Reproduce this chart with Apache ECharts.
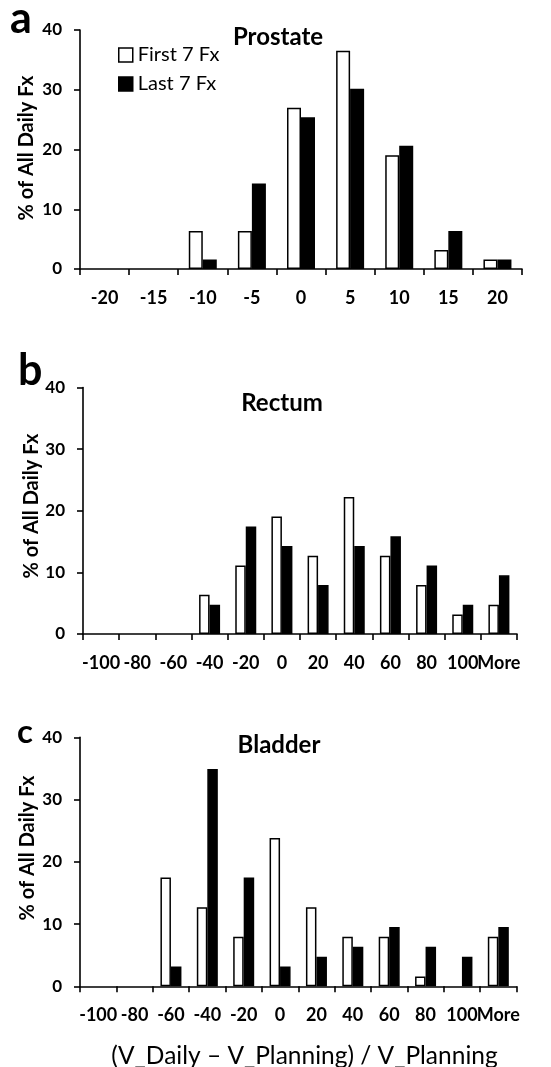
<!DOCTYPE html>
<html>
<head>
<meta charset="utf-8">
<script src="https://cdn.jsdelivr.net/npm/echarts@6/dist/echarts.min.js"></script>
<style>
html,body{margin:0;padding:0;background:#fff;}
#chart{width:551px;height:1067px;}
</style>
</head>
<body>
<div id="chart"></div>
<script>
// ---- data ----
var prostateCats = ['-20','-15','-10','-5','0','5','10','15','20'];
var prostateFirst = [0, 0, 6.35, 6.35, 26.98, 36.51, 19.05, 3.17, 1.59];
var prostateLast  = [0, 0, 1.59, 14.29, 25.40, 30.16, 20.63, 6.35, 1.59];

var organCats = ['-100','-80','-60','-40','-20','0','20','40','60','80','100','More'];
var rectumFirst = [0, 0, 0, 6.35, 11.11, 19.05, 12.70, 22.22, 12.70, 7.94, 3.17, 4.76];
var rectumLast  = [0, 0, 0, 4.76, 17.46, 14.29, 7.94, 14.29, 15.87, 11.11, 4.76, 9.52];
var bladderFirst = [0, 0, 17.46, 12.70, 7.94, 23.81, 12.70, 7.94, 7.94, 1.59, 0, 7.94];
var bladderLast  = [0, 0, 3.17, 34.92, 17.46, 3.17, 4.76, 6.35, 9.52, 6.35, 4.76, 9.52];

var yTicks = {min: 0, max: 40, interval: 10};
var seriesNames = ['First 7 Fx', 'Last 7 Fx'];

// ---- chart ----
var FONT = 'Lato';
var chart = echarts.init(document.getElementById('chart'), null, {renderer: 'canvas'});

var grids = [
  {left: 80, right: 29, top: 30, height: 239},
  {left: 83, right: 34, top: 387.5, height: 246.5},
  {left: 80, right: 34.5, top: 737.3, height: 249}
];

function xAxisFor(i, cats) {
  return {
    type: 'category', gridIndex: i, data: cats,
    axisLine: {lineStyle: {color: '#000', width: 1.6}},
    axisTick: {show: true, length: 6, lineStyle: {color: '#000', width: 1.6}},
    axisLabel: {interval: 0, color: '#000', fontFamily: FONT, fontWeight: 'bold', fontSize: 18, margin: 20}
  };
}
function yAxisFor(i) {
  return {
    type: 'value', gridIndex: i, min: yTicks.min, max: yTicks.max, interval: yTicks.interval,
    splitLine: {show: false},
    axisLine: {show: true, lineStyle: {color: '#000', width: 1.6}},
    axisTick: {show: true, length: 6, lineStyle: {color: '#000', width: 1.6}},
    axisLabel: {color: '#000', fontFamily: FONT, fontWeight: 'bold', fontSize: 17, margin: 18}
  };
}
function barSeries(i, name, data, white, bw) {
  return {
    type: 'bar', name: name, xAxisIndex: i, yAxisIndex: i,
    // empty bins (0 %) draw no box
    data: data.map(function (v) { return v === 0 ? null : v; }),
    barWidth: bw, barGap: 0,
    itemStyle: {color: white ? '#fff' : '#000', borderColor: '#000', borderWidth: 1.5},
    emphasis: {disabled: true}, animation: false
  };
}

var option = {
  backgroundColor: '#fff',
  animation: false,
  grid: grids,
  xAxis: [xAxisFor(0, prostateCats), xAxisFor(1, organCats), xAxisFor(2, organCats)],
  yAxis: [yAxisFor(0), yAxisFor(1), yAxisFor(2)],
  legend: {
    orient: 'vertical', left: 113, top: 40, itemWidth: 14, itemHeight: 14, itemGap: 9,
    textStyle: {color: '#000', fontFamily: FONT, fontSize: 20},
    data: [
      {name: seriesNames[0], icon: 'rect', itemStyle: {color: '#fff', borderColor: '#000', borderWidth: 1.5}},
      {name: seriesNames[1], icon: 'rect', itemStyle: {color: '#000', borderColor: '#000', borderWidth: 1.5}}
    ],
    selectedMode: false
  },
  series: [
    barSeries(0, seriesNames[0], prostateFirst, true, 14),
    barSeries(0, seriesNames[1], prostateLast, false, 14),
    barSeries(1, seriesNames[0], rectumFirst, true, 10.5),
    barSeries(1, seriesNames[1], rectumLast, false, 10.5),
    barSeries(2, seriesNames[0], bladderFirst, true, 10.5),
    barSeries(2, seriesNames[1], bladderLast, false, 10.5)
  ],
  graphic: [
    {type: 'text', left: 10, top: -2, style: {text: 'a', font: 'bold 43px Lato', fill: '#000'}},
    {type: 'text', left: 18, top: 350, style: {text: 'b', font: 'bold 43px Lato', fill: '#000'}},
    {type: 'text', left: 17, top: 716, style: {text: 'c', font: 'bold 33px Lato', fill: '#000'}},

    {type: 'text', x: 278, y: 37, style: {text: 'Prostate', font: 'bold 24px Lato', fill: '#000', textAlign: 'center', textVerticalAlign: 'middle'}},
    {type: 'text', x: 282, y: 403, style: {text: 'Rectum', font: 'bold 24px Lato', fill: '#000', textAlign: 'center', textVerticalAlign: 'middle'}},
    {type: 'text', x: 279, y: 745, style: {text: 'Bladder', font: 'bold 24px Lato', fill: '#000', textAlign: 'center', textVerticalAlign: 'middle'}},

    {type: 'text', x: 27, y: 148, rotation: Math.PI / 2, style: {text: '% of All Daily Fx', font: 'bold 20px Lato', fill: '#000', textAlign: 'center', textVerticalAlign: 'middle'}},
    {type: 'text', x: 32, y: 506, rotation: Math.PI / 2, style: {text: '% of All Daily Fx', font: 'bold 20px Lato', fill: '#000', textAlign: 'center', textVerticalAlign: 'middle'}},
    {type: 'text', x: 28, y: 848, rotation: Math.PI / 2, style: {text: '% of All Daily Fx', font: 'bold 20px Lato', fill: '#000', textAlign: 'center', textVerticalAlign: 'middle'}},

    {type: 'text', x: 304.5, y: 1056, style: {text: '(V_Daily \u2013 V_Planning) / V_Planning', font: '24.5px Lato', fill: '#000', textAlign: 'center', textVerticalAlign: 'middle'}}
  ]
};
chart.setOption(option);
</script>
</body>
</html>
